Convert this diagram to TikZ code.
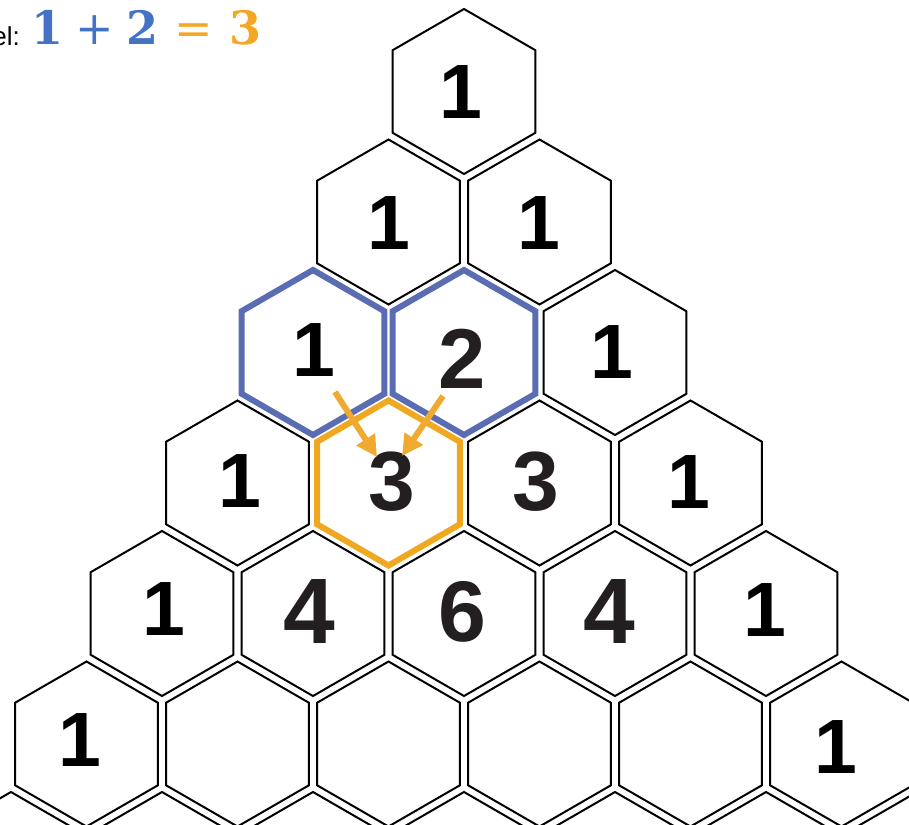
\documentclass[tikz,border=0pt]{standalone}
\usepackage{fontspec}
\setmainfont{Liberation Sans}
\newfontfamily\eqfont{DejaVu Serif}
\usetikzlibrary{arrows.meta}
\definecolor{hexblue}{HTML}{5A6DB3}
\definecolor{hexorange}{HTML}{F0A820}
\definecolor{arroworange}{HTML}{F0AA30}
\definecolor{eqblue}{HTML}{4472C4}
\definecolor{eqorange}{HTML}{F5A623}
\definecolor{numblack}{HTML}{231F20}
\begin{document}
\begin{tikzpicture}[x=1pt,y=-1pt,
  hexline/.style={draw=black, line width=2pt, line join=miter},
  bluehex/.style={draw=hexblue, line width=6pt, line join=miter},
  orangehex/.style={draw=hexorange, line width=6pt, line join=miter},
  onetext/.style={font=\fontsize{77}{77}\selectfont\bfseries, text=black, inner sep=0pt},
  bigtext/.style={font=\fontsize{#1}{#1}\selectfont\bfseries, text=numblack, inner sep=0pt},
  eqglyph/.style={font=\eqfont\fontsize{46}{46}\selectfont\bfseries, inner sep=0pt, anchor=base},
  eqop/.style={font=\eqfont\fontsize{46}{46}\selectfont, inner sep=0pt, anchor=base},
  addarrow/.style={draw=arroworange, line width=6pt, -{Triangle[length=21pt,width=21pt]}}]
\useasboundingbox (0,0) rectangle (909,824);
\clip (0,0) rectangle (909,824);
\def\R{82.5}
% all hexagons
\foreach \r in {0,...,6}{
  \foreach \k in {0,...,\r}{
    \pgfmathsetmacro{\cx}{464+(\k-\r/2)*151}
    \pgfmathsetmacro{\cy}{91.5+\r*130.5}
    \draw[hexline] (\cx,\cy) +(90:\R) -- +(150:\R) -- +(210:\R) -- +(270:\R) -- +(330:\R) -- +(30:\R) -- cycle;
  }
}
% highlighted hexagons
\draw[bluehex] (313,352.5) +(90:\R) -- +(150:\R) -- +(210:\R) -- +(270:\R) -- +(330:\R) -- +(30:\R) -- cycle;
\draw[bluehex] (464,352.5) +(90:\R) -- +(150:\R) -- +(210:\R) -- +(270:\R) -- +(330:\R) -- +(30:\R) -- cycle;
\draw[orangehex] (388.5,483) +(90:\R) -- +(150:\R) -- +(210:\R) -- +(270:\R) -- +(330:\R) -- +(30:\R) -- cycle;
% numbers: ones
\foreach \nm/\px/\py in {n00/460.5/92.5, n10/389/223, n11/539/223, n20/313.5/350.5, n22/612/352,
  n30/239.5/481.5, n33/689/482, n40/164/609.5, n44/765/610, n50/80/740, n55/836/747}{
  \node[onetext] (\nm) at (\px,\py) {1};
}
% numbers: larger digits
\node[bigtext=85] (n21) at (462.5,358.5) {2};
\node[bigtext=84] (n31) at (392,482) {3};
\node[bigtext=84] (n32) at (535.5,482) {3};
\node[bigtext=93] (n41) at (309,611.5) {4};
\node[bigtext=86] (n42) at (462,611.5) {6};
\node[bigtext=93] (n43) at (609,611.5) {4};
% arrows
\coordinate (a1s) at (335,392);
\coordinate (a1e) at (377,457);
\coordinate (a2s) at (443,396);
\coordinate (a2e) at (402,456);
\draw[addarrow] (a1s) -- (a1e);
\draw[addarrow] (a2s) -- (a2e);
% header
\node[anchor=base east, inner sep=0pt, font=\fontsize{26}{26}\selectfont] (lbl) at (20,46) {el:};
\node[eqglyph, text=eqblue] (e1) at (47.5,45) {1};
\node[eqop, text=eqblue] (e2) at (95,45) {+};
\node[eqglyph, text=eqblue] (e3) at (142.5,45) {2};
\node[eqop, text=eqorange] (e4) at (194,45) {=};
\node[eqglyph, text=eqorange] (e5) at (245,45) {3};
\end{tikzpicture}
\end{document}
